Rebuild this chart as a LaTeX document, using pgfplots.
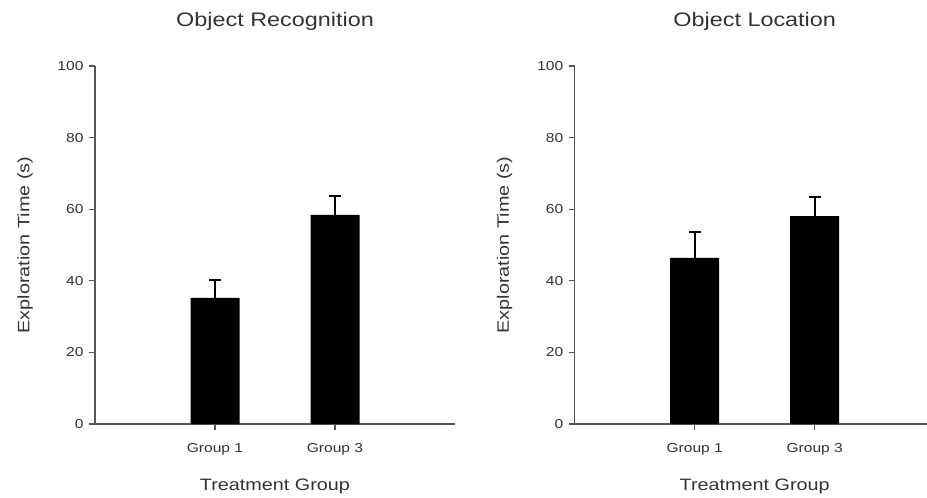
\documentclass[border=0pt]{standalone}
\usepackage{pgfplots}
\pgfplotsset{compat=1.18}
\usepackage{fontspec}
\setmainfont{Liberation Sans}[FakeStretch=1.2]
\definecolor{txt}{HTML}{333333}
\definecolor{axc}{HTML}{555555}
\pgfplotsset{
  /pgf/number format/assume math mode=true,
  panel/.style={
    scale only axis, height=358bp,
    ymin=0, ymax=100, xmin=0,
    ytick={0,20,40,60,80,100},
    xtick={1,2}, xticklabels={Group 1, Group 3},
    axis x line=bottom, axis y line=left,
    axis line style={-, axc, line width=1.3bp},
    tick style={axc, line width=1.3bp},
    tick align=outside, major tick length=6bp,
    clip=false,
    font=\color{txt},
    tick label style={font=\fontsize{13bp}{15bp}\selectfont\color{txt}},
    yticklabel style={anchor=east, xshift=-2bp},
    xticklabel style={anchor=base, yshift=-22bp},
    label style={font=\fontsize{16.5bp}{19bp}\selectfont\color{txt}},
    xlabel={Treatment Group}, ylabel={Exploration Time (s)},
    title style={font=\fontsize{19.5bp}{22bp}\selectfont\color{txt}, anchor=base},
  },
  barsty/.style={ybar, bar width=49bp, fill=black, draw=none,
    error bars/.cd, y dir=plus, y explicit,
    error bar style={line width=2bp, black},
    error mark options={rotate=90, black, line width=2bp, mark size=6bp}},
}
\begin{document}
\begin{tikzpicture}
\path[use as bounding box] (0,0) rectangle (927bp,-498bp);
\begin{axis}[panel, width=360bp, xmax=3,
  at={(95bp,-424bp)}, anchor=south west,
  title={Object Recognition},
  title style={at={(axis description cs:0.5,1)}, yshift=34bp},
  xlabel style={at={(axis description cs:0.5,0)}, anchor=base, yshift=-66bp},
  ylabel style={at={(axis description cs:-0.1944,0.5)}, anchor=center}]
\addplot[barsty] coordinates {(1,35.2) +- (0,5.1) (2,58.4) +- (0,5.3)};
\end{axis}
\begin{axis}[panel, width=352.3bp, xmax=2.936,
  at={(574.7bp,-424bp)}, anchor=south west,
  title={Object Location},
  title style={at={(axis description cs:0.5109,1)}, yshift=34bp},
  xlabel style={at={(axis description cs:0.5109,0)}, anchor=base, yshift=-66bp},
  ylabel style={at={(axis description cs:-0.1987,0.5)}, anchor=center}]
\addplot[barsty] coordinates {(1,46.4) +- (0,7.2) (2,58.1) +- (0,5.4)};
\end{axis}
\end{tikzpicture}
\end{document}
